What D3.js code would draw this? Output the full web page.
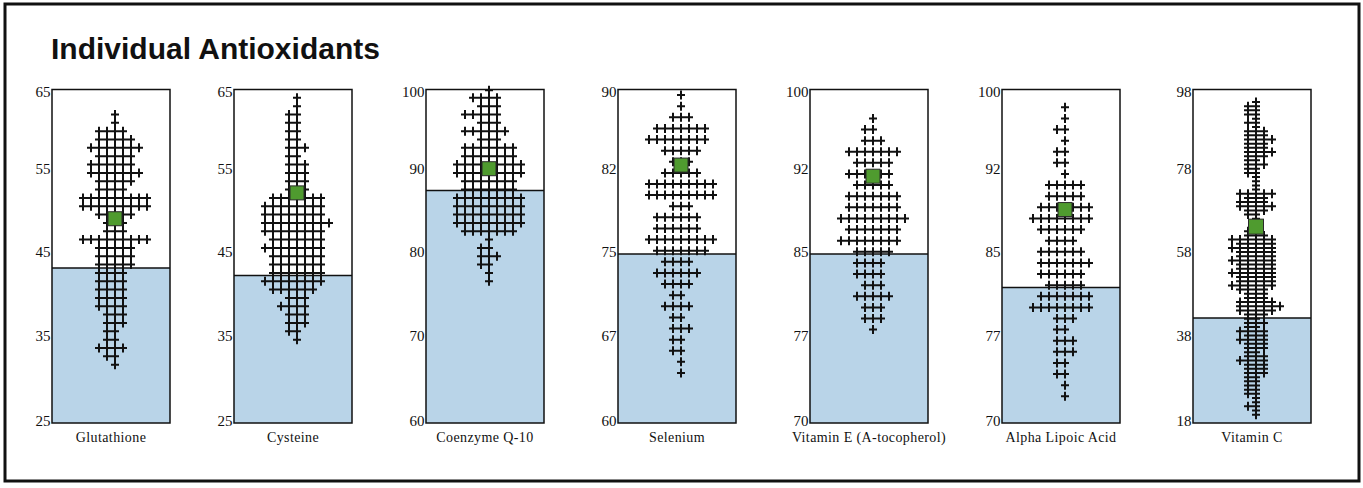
<!DOCTYPE html>
<html>
<head>
<meta charset="utf-8">
<script src="https://cdnjs.cloudflare.com/ajax/libs/d3/7.8.5/d3.min.js"></script>
<style>
  body { margin: 0; background: #fff; }
  svg { display: block; }
</style>
</head>
<body>
<div id="chart"></div>
<script>
// ---- data ----
const names = ["Glutathione", "Cysteine", "Coenzyme Q-10", "Selenium",
  "Vitamin E (A-tocopherol)", "Alpha Lipoic Acid", "Vitamin C"];
const domains = [[25, 65], [25, 65], [60, 100], [60, 90], [70, 100], [70, 100], [18, 98]];
const tickValues = [
  [25, 35, 45, 55, 65], [25, 35, 45, 55, 65], [60, 70, 80, 90, 100],
  [60, 67.5, 75, 82.5, 90], [70, 77.5, 85, 92.5, 100], [70, 77.5, 85, 92.5, 100],
  [18, 38, 58, 78, 98]
];
const tickLabels = [
  ["25", "35", "45", "55", "65"], ["25", "35", "45", "55", "65"], ["60", "70", "80", "90", "100"],
  ["60", "67", "75", "82", "90"], ["70", "77", "85", "92", "100"], ["70", "77", "85", "92", "100"],
  ["18", "38", "58", "78", "98"]
];
// reference level (top of the shaded area)
const refLevels = [43.6, 42.7, 87.9, 75.2, 85.2, 82.2, 43.2];
// green square (group mean)
const means = [49.5, 52.6, 90.5, 83.2, 92.2, 89.2, 65.1];

// each row: [value, first column, last column] ; column 0 is just right of the middle
const glutathione = [
  [62, 0, 0], [61, 0, 0], [60, -2, 1], [59, -2, 2], [58, -3, 3], [57, -2, 2], [56, -3, 2],
  [55, -3, 3], [54, -2, 2], [53, -2, 1], [52, -4, 4], [51, -4, 4], [50, -2, 2], [49, -1, 1],
  [48, -1, 1], [47, -4, 4], [46, -2, 2], [45, -2, 2], [44, -2, 2], [43, -2, 1], [42, -2, 1],
  [41, -2, 1], [40, -2, 1], [39, -2, 1], [38, -1, 1], [37, -1, 1], [36, -1, 0], [35, -1, 0],
  [34, -2, 1], [33, -1, 0], [32, 0, 0]
];
const cysteine = [
  [64, 0, 0], [63, 0, 0], [62, -1, 0], [61, -1, 0], [60, -1, 0], [59, -1, 0], [58, -1, 1],
  [57, -1, 0], [56, -1, 1], [55, -1, 1], [54, -1, 1], [53, -1, 1], [52, -3, 3], [51, -4, 3],
  [50, -4, 3], [49, -4, 4], [48, -4, 3], [47, -3, 3], [46, -4, 3], [45, -3, 3], [44, -3, 3],
  [43, -3, 3], [42, -4, 3], [41, -3, 2], [40, -1, 1], [39, -2, 1], [38, -1, 1], [37, -1, 1],
  [36, -1, 0], [35, 0, 0]
];
const coenzymeQ10 = [
  [99.9, 0, 0], [99, -2, 1], [98, -1, 1], [97, -3, 1], [96, -1, 1], [95, -3, 2], [94, -1, 1],
  [93, -3, 3], [92, -3, 3], [91, -4, 4], [90, -4, 4], [89, -3, 3], [88, -3, 3], [87, -4, 4],
  [86, -4, 4], [85, -4, 4], [84, -4, 4], [83, -3, 3], [82, 0, 0], [81, -1, 0], [80, -1, 1],
  [79, -1, 0], [78, 0, 0], [77, 0, 0]
];
const selenium = [
  [89.5, 0, 0], [88.5, 0, 0], [87.5, -1, 1], [86.5, -3, 3], [85.5, -4, 3], [84.5, -2, 2],
  [83.5, -1, 1], [82.5, -2, 2], [81.5, -4, 4], [80.5, -4, 4], [79.5, -1, 1], [78.5, -3, 2],
  [77.5, -3, 2], [76.5, -4, 4], [75.5, -3, 3], [74.5, -2, 1], [73.5, -3, 2], [72.5, -2, 1],
  [71.5, -1, 0], [70.5, -2, 1], [69.5, -1, 0], [68.5, -1, 1], [67.5, -1, 0], [66.5, -1, 0],
  [65.5, 0, 0], [64.5, 0, 0]
];
const vitaminE = [
  [97.4, 0, 0], [96.4, -1, 0], [95.4, -1, 1], [94.4, -3, 3], [93.4, -2, 2], [92.4, -3, 2],
  [91.4, -2, 2], [90.4, -3, 3], [89.4, -3, 3], [88.4, -4, 4], [87.4, -3, 3], [86.4, -4, 3],
  [85.4, -2, 2], [84.4, -2, 1], [83.4, -2, 1], [82.4, -1, 1], [81.4, -2, 2], [80.4, -1, 1],
  [79.4, -1, 1], [78.4, 0, 0]
];
const alphaLipoic = [
  [98.4, 0, 0], [97.4, 0, 0], [96.4, -1, 0], [95.4, 0, 0], [94.4, -1, 0], [93.4, -1, 0],
  [92.4, 0, 0], [91.4, -2, 2], [90.4, -2, 2], [89.4, -3, 3], [88.4, -4, 3], [87.4, -3, 2],
  [86.4, -2, 1], [85.4, -3, 2], [84.4, -3, 3], [83.4, -3, 2], [82.4, -2, 2], [81.4, -3, 3],
  [80.4, -4, 3], [79.4, -1, 1], [78.4, -1, 0], [77.4, -1, 1], [76.4, -1, 1], [75.4, -1, 0],
  [74.4, -1, 0], [73.4, 0, 0], [72.4, 0, 0]
];
const vitaminC = [
  [95, 0, 0], [94, -1, 0], [93, -1, 0], [92, -1, 0], [91, 0, 0], [90, -1, 0], [89, 0, 0],
  [88, -1, 1], [87, -1, 1], [86, -1, 2], [85, -1, 1], [84, -1, 1], [83, -1, 2], [82, -1, 1],
  [81, -1, 0], [80, -1, 1], [79, -1, 0], [78, -1, 0], [77, 0, 0], [76, 0, 0], [75, 0, 0],
  [74, 0, 0], [73, -2, 2], [72, -1, 1], [71, -2, 1], [70, -2, 2], [69, -1, 1], [68, -1, 0],
  [67, 0, 0], [66, 0, 0], [65, 0, 0], [64, -1, 0], [63, -1, 1], [62, -3, 2], [61, -2, 2],
  [60, -3, 2], [59, -2, 2], [58, -2, 2], [57, -3, 2], [56, -2, 2], [55, -2, 2], [54, -3, 2],
  [53, -2, 2], [52, -2, 2], [51, -3, 2], [50, -2, 1], [49, -1, 1], [48, -1, 1], [47, -2, 2],
  [46, -2, 3], [45, -2, 2], [44, -1, 1], [43, -1, 0], [42, -1, 1], [41, -1, 0], [40, -2, 1],
  [39, -1, 1], [38, -2, 1], [37, -1, 1], [36, -1, 1], [35, -1, 0], [34, -1, 1], [33, -2, 1],
  [32, -1, 1], [31, -1, 1], [30, -1, 1], [29, -1, 0], [28, -1, 0], [27, -1, 0], [26, -1, 0],
  [25, -1, 0], [24, 0, 0], [23, 0, 0], [22, -1, 0], [21, 0, 0], [20, 0, 0]
];
const rowsByPanel = [glutathione, cysteine, coenzymeQ10, selenium, vitaminE, alphaLipoic, vitaminC];

// ---- layout ----
const width = 1363, height = 488;
const panelLeft = [52, 234, 426, 618, 810, 1002, 1193];
const boxW = 118, boxTop = 89.5, boxBottom = 423;
const colStep = 8;

const svg = d3.select("#chart").append("svg")
  .attr("width", width)
  .attr("height", height);

// outer frame
svg.append("rect")
  .attr("x", 5).attr("y", 4)
  .attr("width", 1354).attr("height", 477)
  .attr("fill", "none")
  .attr("stroke", "#111")
  .attr("stroke-width", 3);

// title
svg.append("text")
  .attr("x", 51).attr("y", 59)
  .attr("font-family", "'Liberation Sans', Arial, sans-serif")
  .attr("font-weight", "bold")
  .attr("font-size", "30px")
  .attr("fill", "#111")
  .text("Individual Antioxidants");

names.forEach((name, i) => {
  const x0 = panelLeft[i];
  const cx = x0 + boxW / 2;
  const y = d3.scaleLinear().domain(domains[i]).range([boxBottom, boxTop]);
  const g = svg.append("g");

  // shaded area below the reference level
  g.append("rect")
    .attr("x", x0).attr("y", y(refLevels[i]))
    .attr("width", boxW).attr("height", boxBottom - y(refLevels[i]))
    .attr("fill", "#b9d4e8");

  // crosses
  const crosses = [];
  rowsByPanel[i].forEach(([v, c0, c1]) => {
    for (let c = c0; c <= c1; c++) crosses.push({ v, c });
  });
  g.append("path")
    .attr("d", crosses.map(d => {
      const px = cx + (d.c + 0.5) * colStep;
      const py = y(d.v);
      return `M${px - 4},${py}h8M${px},${py - 4.5}v9`;
    }).join(""))
    .attr("fill", "none")
    .attr("stroke", "#111")
    .attr("stroke-width", 2);

  // reference line
  g.append("line")
    .attr("x1", x0).attr("x2", x0 + boxW)
    .attr("y1", y(refLevels[i])).attr("y2", y(refLevels[i]))
    .attr("stroke", "#111").attr("stroke-width", 1.5);

  // box
  g.append("rect")
    .attr("x", x0).attr("y", boxTop)
    .attr("width", boxW).attr("height", boxBottom - boxTop)
    .attr("fill", "none")
    .attr("stroke", "#111").attr("stroke-width", 1.5);

  // mean marker
  const s = i === 6 ? 15 : 14;
  g.append("rect")
    .attr("x", cx + 0.5 * colStep - s / 2)
    .attr("y", y(means[i]) - s / 2)
    .attr("width", s).attr("height", s)
    .attr("fill", "#4f9b2f")
    .attr("stroke", "#2a2a2a").attr("stroke-width", 1);

  // y tick labels
  const ticks = tickValues[i];
  g.selectAll("text.tick")
    .data(ticks)
    .join("text")
    .attr("class", "tick")
    .attr("x", x0 - 1.5)
    .attr("y", (t, k) => k === ticks.length - 1 ? y(t) + 7 : (k === 0 ? y(t) + 3 : y(t) + 1))
    .attr("text-anchor", "end")
    .attr("font-family", "'Liberation Serif', 'Times New Roman', serif")
    .attr("font-size", "15px")
    .attr("fill", "#111")
    .text((t, k) => tickLabels[i][k]);

  // panel label
  g.append("text")
    .attr("x", cx).attr("y", 442)
    .attr("text-anchor", "middle")
    .attr("font-family", "'Liberation Serif', 'Times New Roman', serif")
    .attr("font-size", "14px")
    .attr("letter-spacing", "0.4px")
    .attr("fill", "#111")
    .text(name);
});
</script>
</body>
</html>
